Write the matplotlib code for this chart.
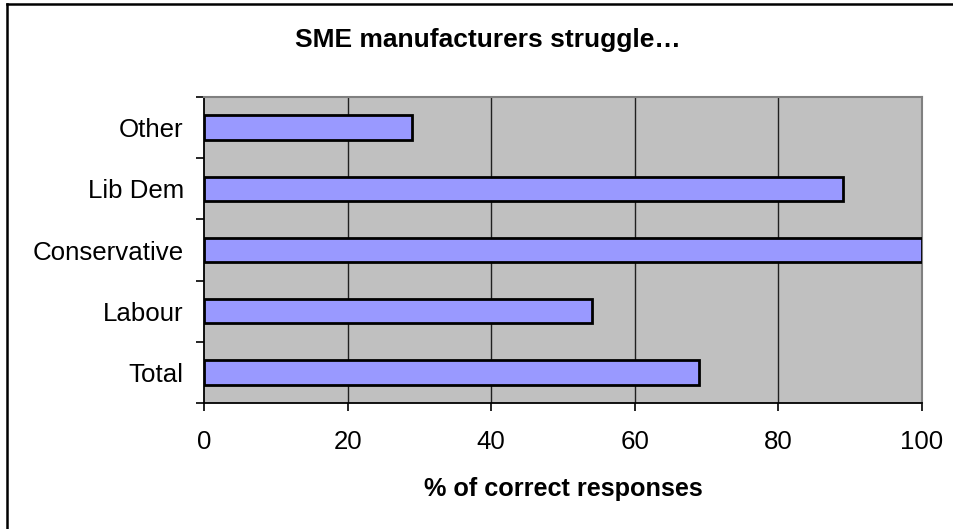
import matplotlib
matplotlib.use("Agg")
import matplotlib.pyplot as plt
from matplotlib.lines import Line2D

categories = ["Total", "Labour", "Conservative", "Lib Dem", "Other"]
values = [69, 54, 100, 89, 29]
xticks = [0, 20, 40, 60, 80, 100]
title = "SME manufacturers struggle\u2026"
xlabel = "% of correct responses"

plt.rcParams['font.family'] = ['Liberation Sans', 'DejaVu Sans']

W, H = 954, 529
fig = plt.figure(figsize=(W / 100, H / 100), dpi=100)
fig.patch.set_facecolor("white")

L, R, T, B = 204, 922, 97, 403
ax = fig.add_axes([L / W, 1 - B / H, (R - L) / W, (B - T) / H])
ax.set_facecolor("#C0C0C0")

ypos = list(range(len(categories)))
ax.barh(ypos, values, height=0.4, color="#9999FF", edgecolor="black",
        linewidth=2.0, zorder=3)

ax.set_xlim(0, 100)
ax.set_ylim(-0.5, len(categories) - 0.5)
ax.set_xticks(xticks)
ax.set_xticklabels([str(v) for v in xticks])
ax.set_yticks(ypos)
ax.set_yticklabels(categories)
ax.set_yticks([i - 0.5 for i in range(len(categories) + 1)], minor=True)

ax.tick_params(axis="y", which="major", length=0, pad=14.5, labelsize=18.6)
ax.tick_params(axis="y", which="minor", length=6, width=1.2, direction="out", color="black")
ax.tick_params(axis="x", which="major", length=6, width=1.2, direction="out",
               pad=13.5, labelsize=18.6, color="black")

for v in xticks[1:-1]:
    ax.axvline(v, color="#202020", linewidth=1.0, zorder=1)

ax.spines["left"].set_color("black")
ax.spines["left"].set_linewidth(1.3)
ax.spines["bottom"].set_color("black")
ax.spines["bottom"].set_linewidth(1.3)
ax.spines["top"].set_color("#808080")
ax.spines["top"].set_linewidth(1.5)
ax.spines["right"].set_color("#808080")
ax.spines["right"].set_linewidth(1.5)

fig.text(488 / W, 1 - 47 / H, title, ha="center", va="baseline",
         fontsize=19, fontweight="bold")
fig.text(563 / W, 1 - 496 / H, xlabel, ha="center", va="baseline",
         fontsize=18.2, fontweight="bold")

# outer frame (top and left edges visible)
fig.add_artist(Line2D([7 / W, 7 / W], [0, 1 - 4 / H], transform=fig.transFigure,
                      color="black", linewidth=1.8))
fig.add_artist(Line2D([7 / W, 1], [1 - 4 / H, 1 - 4 / H], transform=fig.transFigure,
                      color="black", linewidth=1.8))

fig.savefig("out.png", dpi=100)
